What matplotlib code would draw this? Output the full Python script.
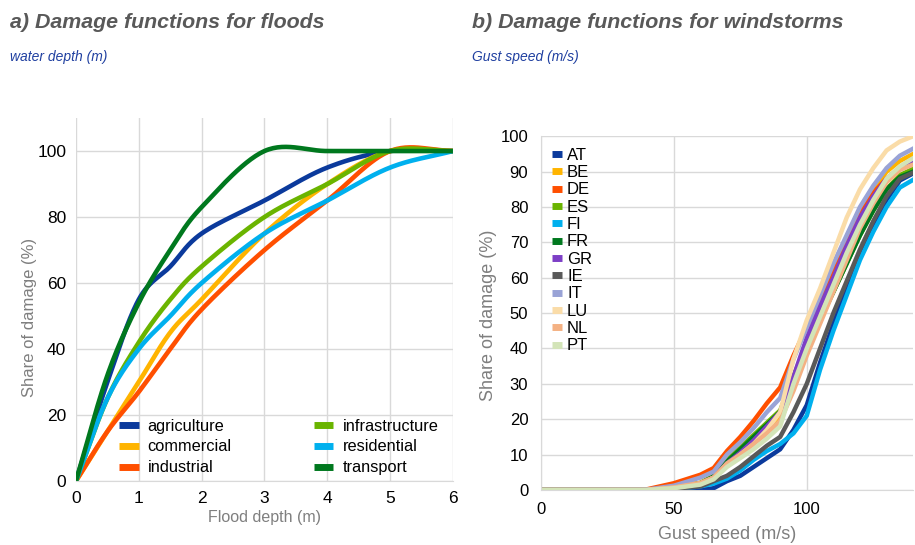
import matplotlib.pyplot as plt
import numpy as np

plt.rcParams['font.family'] = ['Liberation Sans', 'DejaVu Sans']

# --- a) floods ---
depth = [0, 0.5, 1, 1.5, 2, 3, 4, 5, 6]
flood_names = ['agriculture', 'commercial', 'industrial', 'infrastructure', 'residential', 'transport']
agriculture = [0, 30, 55, 65, 75, 85, 95, 100, 100]
commercial = [0, 15, 30, 45, 55, 75, 90, 100, 100]
industrial = [0, 15, 27, 40, 52, 70, 85, 100, 100]
infrastructure = [0, 25, 42, 55, 65, 80, 90, 100, 100]
residential = [0, 25, 40, 50, 60, 75, 85, 95, 100]
transport = [0, 32, 54, 70, 83, 100, 100, 100, 100]
flood_colors = ['#0b3a9c', '#ffb400', '#ff4f00', '#6ab400', '#00b0ee', '#00781e']

# --- b) windstorms ---
gust = [0, 40, 50, 60, 65, 70, 75, 80, 85, 90, 95, 100, 105, 110, 115, 120, 125, 130, 135, 140]
countries = ['AT', 'BE', 'DE', 'ES', 'FI', 'FR', 'GR', 'IE', 'IT', 'LU', 'NL', 'PT']
wind = {
    'AT': [0, 0, 0, 0, 0.5, 2.5, 4, 6.5, 9, 11.5, 17, 24, 36, 47, 57, 67, 75, 82, 87.5, 89.5],
    'BE': [0, 0, 0.8, 2, 4, 8, 11, 14, 17.5, 21, 32, 42, 52, 61, 70, 78, 85, 90, 93, 95],
    'DE': [0, 0.2, 1.9, 4.3, 6.2, 11, 15, 19.5, 24.5, 29, 38, 46, 54, 62, 71, 78, 84, 88, 91, 92.5],
    'ES': [0, 0, 0.8, 2, 4, 9, 12, 15.5, 19, 22.5, 32, 41, 49, 56, 64, 72, 79, 85, 89, 90.8],
    'FI': [0, 0, 0.3, 1, 1.8, 3.2, 5.5, 8.5, 11, 13, 16, 21, 34, 45, 55, 65, 73, 80, 85.5, 87.7],
    'FR': [0, 0, 0.6, 1.8, 3.8, 8, 11.5, 15, 18.5, 22, 31, 39, 48, 56, 64, 72, 79, 85, 88.5, 90],
    'GR': [0, 0, 0.7, 1.8, 3.5, 7.5, 10.5, 14, 18, 22, 32, 43, 52, 60, 69, 77, 83, 88, 91, 93],
    'IE': [0, 0, 0.3, 1, 2.5, 4, 6.5, 9.5, 12.5, 15, 22, 30, 40, 50, 59, 68, 76, 83, 88, 89.7],
    'IT': [0, 0.1, 1.2, 3.5, 5.2, 10, 13.5, 17.5, 22, 26, 37, 46, 55, 64, 72, 80, 86, 91, 94.5, 96.5],
    'LU': [0, 0, 0.6, 1.8, 3.5, 7, 10, 13, 17, 22, 37, 48, 57, 67, 77, 85, 91, 96, 98.5, 100],
    'NL': [0, 0, 0.7, 2, 3.5, 7.5, 10, 13, 16, 19.5, 28, 38, 47, 56, 65, 74, 81, 87, 90.5, 92],
    'PT': [0, 0, 0.5, 1.5, 3, 6.5, 9, 11.5, 14.5, 18, 30, 40, 49, 58, 67, 75, 82, 88, 91.5, 93.8],
}
wind_colors = ['#0b3a9c', '#ffb400', '#ff4f00', '#6ab400', '#00b0ee', '#00781e',
               '#7d3fc6', '#595959', '#99a3d6', '#fadca8', '#f4b183', '#d3e4b8']


def smooth(x, y, n=30):
    # Catmull-Rom style smoothing like a spreadsheet "smoothed line"
    x = np.asarray(x, float)
    y = np.asarray(y, float)
    px = np.concatenate([[2 * x[0] - x[1]], x, [2 * x[-1] - x[-2]]])
    py = np.concatenate([[2 * y[0] - y[1]], y, [2 * y[-1] - y[-2]]])
    xs, ys = [], []
    t = np.linspace(0, 1, n)
    for i in range(1, len(px) - 2):
        p0, p1, p2, p3 = px[i - 1], px[i], px[i + 1], px[i + 2]
        q0, q1, q2, q3 = py[i - 1], py[i], py[i + 1], py[i + 2]
        c1x, c1y = p1 + (p2 - p0) / 6, q1 + (q2 - q0) / 6
        c2x, c2y = p2 - (p3 - p1) / 6, q2 - (q3 - q1) / 6
        bx = (1 - t) ** 3 * p1 + 3 * (1 - t) ** 2 * t * c1x + 3 * (1 - t) * t ** 2 * c2x + t ** 3 * p2
        by = (1 - t) ** 3 * q1 + 3 * (1 - t) ** 2 * t * c1y + 3 * (1 - t) * t ** 2 * c2y + t ** 3 * q2
        xs.extend(bx)
        ys.extend(by)
    return np.array(xs), np.array(ys)


fig = plt.figure(figsize=(9.15, 5.45), dpi=100)
grid_c = '#d9d9d9'
gray = '#595959'

# titles
fig.text(0.011, 0.948, 'a) Damage functions for floods', fontsize=15.4, fontweight='bold',
         style='italic', color=gray)
fig.text(0.011, 0.888, 'water depth (m)', fontsize=10, style='italic', color='#1f3fa0')
fig.text(0.516, 0.948, 'b) Damage functions for windstorms', fontsize=15.4, fontweight='bold',
         style='italic', color=gray)
fig.text(0.516, 0.888, 'Gust speed (m/s)', fontsize=10, style='italic', color='#1f3fa0')

# left panel
ax1 = fig.add_axes([0.083, 0.1174, 0.412, 0.666])
series = [agriculture, commercial, industrial, infrastructure, residential, transport]
for name, vals, c in zip(flood_names, series, flood_colors):
    sx, sy = smooth(depth, vals)
    ax1.plot(sx, sy, color=c, lw=3.3, label=name, solid_capstyle='butt')
ax1.set_xlim(0, 6)
ax1.set_ylim(0, 110)
ax1.set_xticks(range(0, 7))
ax1.set_yticks(range(0, 101, 20))
ax1.grid(True, color=grid_c, lw=1)
ax1.set_axisbelow(True)
for s in ['top', 'right', 'left']:
    ax1.spines[s].set_visible(False)
ax1.spines['bottom'].set_color(grid_c)
ax1.tick_params(length=0, labelsize=12.5, colors='black', pad=7)
ax1.set_xlabel('Flood depth (m)', fontsize=11.5, color='#7f7f7f', labelpad=3)
ax1.set_ylabel('Share of damage (%)', fontsize=12, color='#7f7f7f')
ax1.yaxis.set_label_coords(-0.103, 0.45)
leg1 = ax1.legend(ncol=2, loc='lower left', bbox_to_anchor=(0.075, -0.025), frameon=False,
                  fontsize=11.8, handlelength=1.2, handletextpad=0.55, columnspacing=5.0,
                  labelspacing=0.36)
for h in leg1.get_lines():
    h.set_solid_capstyle('butt')
    h.set_linewidth(5)

# right panel
ax2 = fig.add_axes([0.591, 0.101, 0.407, 0.649])
for cn, c in zip(countries, wind_colors):
    ax2.plot(gust, wind[cn], color=c, lw=3.2, label=cn)
ax2.set_xlim(0, 140)
ax2.set_ylim(0, 100)
ax2.set_xticks([0, 50, 100])
ax2.set_yticks(range(0, 101, 10))
ax2.grid(True, color=grid_c, lw=1)
ax2.set_axisbelow(True)
for s in ['top', 'right']:
    ax2.spines[s].set_visible(False)
ax2.spines['left'].set_color(grid_c)
ax2.spines['bottom'].set_color(grid_c)
ax2.tick_params(length=0, labelsize=12, colors='black', pad=9)
ax2.set_xlabel('Gust speed (m/s)', fontsize=13, color='#7f7f7f', labelpad=6)
ax2.set_ylabel('Share of damage (%)', fontsize=13, color='#7f7f7f')
ax2.yaxis.set_label_coords(-0.118, 0.494)
leg = ax2.legend(loc='upper left', bbox_to_anchor=(-0.01, 1.01), frameon=False, fontsize=12,
                 handlelength=0.6, handletextpad=0.3, labelspacing=0.14)
for h in leg.get_lines():
    h.set_solid_capstyle('butt')
    h.set_linewidth(5)

fig.savefig('out.png', dpi=100)
